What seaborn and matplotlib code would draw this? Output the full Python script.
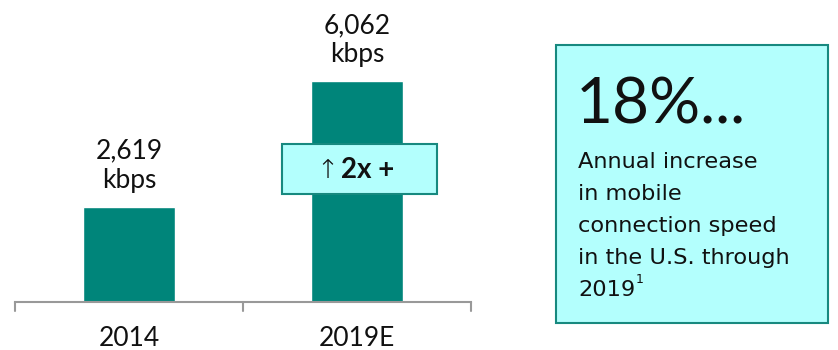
import matplotlib
matplotlib.use("Agg")
import matplotlib.pyplot as plt
import seaborn as sns
import pandas as pd
from matplotlib.patches import Rectangle

categories = ["2014", "2019E"]
speeds = [2619, 6062]
value_labels = ["2,619\nkbps", "6,062\nkbps"]
growth_label = "2x +"
headline = "18%..."
body_lines = ["Annual increase", "in mobile", "connection speed", "in the U.S. through", "2019"]
footnote = "1"

BAR = "#00857A"
BOXFILL = "#B3FFFD"
EDGE = "#17897F"

sns.set_theme(style="white")
plt.rcParams["font.family"] = ["Lato", "DejaVu Sans"]

W, H = 838, 350
fig = plt.figure(figsize=(W / 100, H / 100), dpi=100)

def fx(px):
    return px / W

def fy(py):
    return 1 - py / H

ax = fig.add_axes([fx(15), fy(302), fx(471) - fx(15), fy(0) - fy(302)])
df = pd.DataFrame({"cat": categories, "val": speeds})
sns.barplot(data=df, x="cat", y="val", color=BAR, width=0.4, saturation=1, ax=ax)
ax.set_xlim(-0.5, 1.5)
ax.set_ylim(0, 8283)
ax.set_xlabel("")
ax.set_ylabel("")
ax.set_yticks([])
for s in ["top", "right", "left"]:
    ax.spines[s].set_visible(False)
ax.spines["bottom"].set_color("#999999")
ax.spines["bottom"].set_linewidth(1.5)
ax.set_xticks([0, 1])
ax.set_xticklabels(categories, fontsize=19, color="#111111")
ax.tick_params(axis="x", length=0, pad=17)
for xb in [-0.5, 0.5, 1.5]:
    ax.plot([xb, xb], [0, -0.03], transform=ax.get_xaxis_transform(),
            color="#999999", lw=1.5, clip_on=False)

for i, (v, lab) in enumerate(zip(speeds, value_labels)):
    ax.annotate(lab, (i, v), xytext=(0, 10), textcoords="offset points",
                ha="center", va="bottom", fontsize=19, color="#111111",
                linespacing=1.2)

# growth box
fig.patches.append(Rectangle((fx(282), fy(194)), fx(437) - fx(282), fy(144) - fy(194),
                             transform=fig.transFigure, facecolor=BOXFILL,
                             edgecolor=EDGE, lw=1.5, zorder=5))
fig.text(fx(327), fy(170), "\u2191", ha="center", va="center", fontsize=19,
         color="#111111", zorder=6, family=["DejaVu Sans"], fontweight="light")
fig.text(fx(341), fy(170), growth_label, ha="left", va="center", fontsize=20,
         fontweight="bold", color="#111111", zorder=6)

# side box
fig.patches.append(Rectangle((fx(556), fy(323)), fx(828) - fx(556), fy(45) - fy(323),
                             transform=fig.transFigure, facecolor=BOXFILL,
                             edgecolor=EDGE, lw=1.5, zorder=1))
fig.text(fx(576), fy(124), headline, ha="left", va="baseline", fontsize=46,
         color="#111111", zorder=2)
base = 168
body_fam = ["DejaVu Sans"]
last = None
for k, line in enumerate(body_lines):
    last = fig.text(fx(578), fy(base + 32 * k), line, ha="left", va="baseline",
                    fontsize=16.2, color="#111111", zorder=2, family=body_fam)
fig.canvas.draw()
bb = last.get_window_extent(renderer=fig.canvas.get_renderer())
fig.text(bb.x1 / W, fy(base + 32 * 4 - 13), footnote, ha="left", va="baseline",
         fontsize=9, color="#111111", zorder=2, family=body_fam)

fig.savefig("out.png", dpi=100)
